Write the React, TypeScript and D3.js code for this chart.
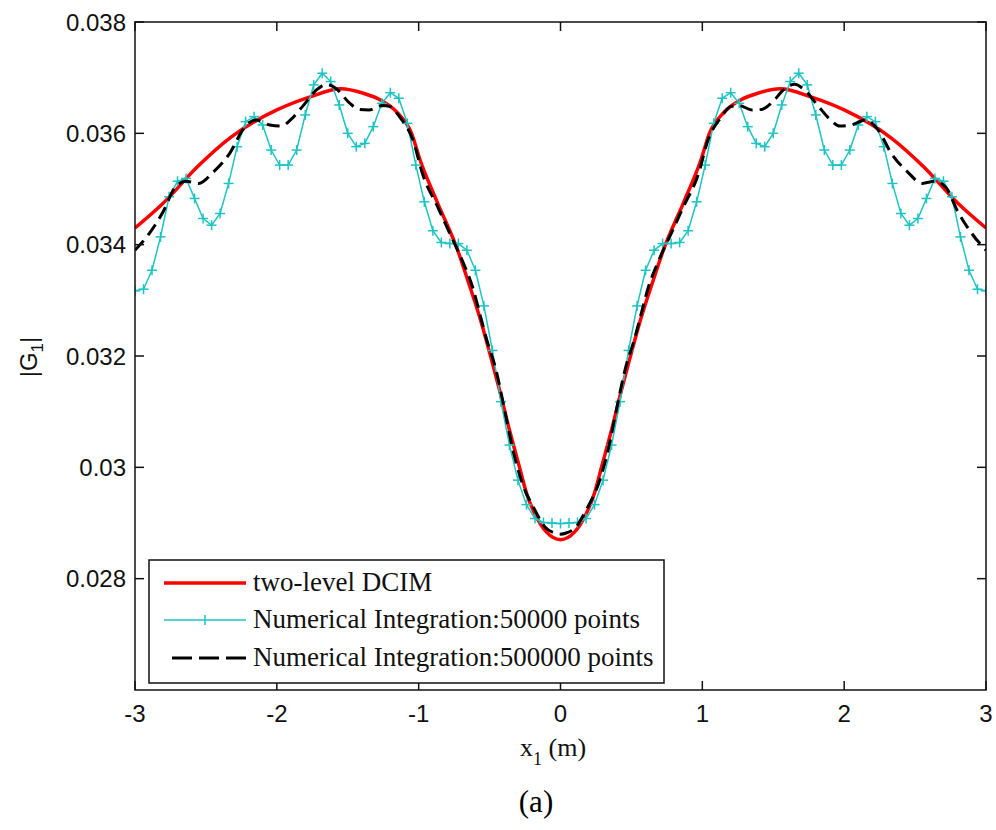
import React from 'react';
import * as d3 from 'd3';

const xTicks = [-3, -2, -1, 0, 1, 2, 3];
const xTickLabels = ['-3', '-2', '-1', '0', '1', '2', '3'];
const yTicks = [0.028, 0.03, 0.032, 0.034, 0.036, 0.038];
const yTickLabels = ['0.028', '0.03', '0.032', '0.034', '0.036', '0.038'];

const seriesNames = [
  'two-level DCIM',
  'Numerical Integration:50000 points',
  'Numerical Integration:500000 points',
];

// two-level DCIM (red)
const redX = [-3, -2.8, -2.56, -2.33, -2, -1.77, -1.55, -1.39, -1.27, -1.15, -1.05, -0.99, -0.87, -0.725, -0.655, -0.57, -0.486, -0.43, -0.36, -0.29, -0.24, -0.17, -0.1, 0,
  0.1, 0.17, 0.24, 0.29, 0.36, 0.43, 0.486, 0.57, 0.655, 0.725, 0.87, 0.99, 1.05, 1.15, 1.27, 1.39, 1.55, 1.77, 2, 2.33, 2.56, 2.8, 3];
const redY = [0.0343, 0.03475, 0.0354, 0.03592, 0.03642, 0.03665, 0.0368, 0.03672, 0.0366, 0.03637, 0.036, 0.03552, 0.03477, 0.0339, 0.03337, 0.0327, 0.03193, 0.03139, 0.03067, 0.03001, 0.02954, 0.02911, 0.02884, 0.0287,
  0.02884, 0.02911, 0.02954, 0.03001, 0.03067, 0.03139, 0.03193, 0.0327, 0.03337, 0.0339, 0.03477, 0.03552, 0.036, 0.03637, 0.0366, 0.03672, 0.0368, 0.03665, 0.03642, 0.03592, 0.0354, 0.03475, 0.0343];

// Numerical Integration: 50000 points (cyan, '+' markers)
const cyanX = [-3, -2.94, -2.88, -2.82, -2.76, -2.7, -2.64, -2.58, -2.52, -2.46, -2.4, -2.34, -2.28, -2.22, -2.16, -2.1, -2.04, -1.98, -1.92, -1.86, -1.8, -1.74, -1.68, -1.62, -1.56, -1.5, -1.44, -1.38, -1.32, -1.26, -1.2, -1.14, -1.08, -1.02, -0.96, -0.9, -0.84, -0.78, -0.72, -0.66, -0.6, -0.54, -0.48, -0.42, -0.36, -0.3, -0.24, -0.18, -0.12, -0.06, 0,
  0.06, 0.12, 0.18, 0.24, 0.3, 0.36, 0.42, 0.48, 0.54, 0.6, 0.66, 0.72, 0.78, 0.84, 0.9, 0.96, 1.02, 1.08, 1.14, 1.2, 1.26, 1.32, 1.38, 1.44, 1.5, 1.56, 1.62, 1.68, 1.74, 1.8, 1.86, 1.92, 1.98, 2.04, 2.1, 2.16, 2.22, 2.28, 2.34, 2.4, 2.46, 2.52, 2.58, 2.64, 2.7, 2.76, 2.82, 2.88, 2.94, 3];
const cyanY = [0.03317, 0.0332, 0.03354, 0.03414, 0.03486, 0.03514, 0.03519, 0.03483, 0.03447, 0.03435, 0.03456, 0.0351, 0.03576, 0.03621, 0.0363, 0.03615, 0.0357, 0.03543, 0.03543, 0.0357, 0.03633, 0.03687, 0.03708, 0.03693, 0.03651, 0.036, 0.03576, 0.03582, 0.03612, 0.03654, 0.03673, 0.03663, 0.03618, 0.03543, 0.03477, 0.03425, 0.03404, 0.03402, 0.03402, 0.0339, 0.03354, 0.0329, 0.0321, 0.03118, 0.0304, 0.02977, 0.02933, 0.02908, 0.02901, 0.029, 0.02899,
  0.029, 0.02901, 0.02908, 0.02933, 0.02977, 0.0304, 0.03118, 0.0321, 0.0329, 0.03354, 0.0339, 0.03402, 0.03402, 0.03404, 0.03425, 0.03477, 0.03543, 0.03618, 0.03663, 0.03673, 0.03654, 0.03612, 0.03582, 0.03576, 0.036, 0.03651, 0.03693, 0.03708, 0.03687, 0.03633, 0.0357, 0.03543, 0.03543, 0.0357, 0.03615, 0.0363, 0.03621, 0.03576, 0.0351, 0.03456, 0.03435, 0.03447, 0.03483, 0.03519, 0.03514, 0.03486, 0.03414, 0.03354, 0.0332, 0.03317];

// Numerical Integration: 500000 points (black dashed)
const blackX = [-3, -2.9, -2.8, -2.72, -2.64, -2.55, -2.45, -2.33, -2.24, -2.15, -2.05, -1.97, -1.9, -1.82, -1.72, -1.65, -1.58, -1.49, -1.42, -1.35, -1.26, -1.2, -1.13, -1.04, -0.97, -0.87, -0.78, -0.69, -0.62, -0.57, -0.52, -0.46, -0.39, -0.34, -0.27, -0.18, -0.11, -0.04, 0,
  0.04, 0.11, 0.18, 0.27, 0.34, 0.39, 0.46, 0.52, 0.57, 0.62, 0.69, 0.78, 0.87, 0.97, 1.04, 1.13, 1.2, 1.26, 1.35, 1.42, 1.49, 1.58, 1.65, 1.72, 1.82, 1.9, 1.97, 2.05, 2.15, 2.24, 2.33, 2.45, 2.55, 2.64, 2.72, 2.8, 2.9, 3];
const blackY = [0.0339, 0.0342, 0.0346, 0.03502, 0.03514, 0.0351, 0.0353, 0.03565, 0.03606, 0.03624, 0.03615, 0.03613, 0.03625, 0.03648, 0.03678, 0.03688, 0.0368, 0.03655, 0.03643, 0.03642, 0.0365, 0.03648, 0.03628, 0.03588, 0.03525, 0.0347, 0.0342, 0.0337, 0.03324, 0.03277, 0.03229, 0.0318, 0.03098, 0.03036, 0.02972, 0.02923, 0.02893, 0.02882, 0.0288,
  0.02882, 0.02893, 0.02923, 0.02972, 0.03036, 0.03098, 0.0318, 0.03229, 0.03277, 0.03324, 0.0337, 0.0342, 0.0347, 0.03525, 0.03588, 0.03628, 0.03648, 0.0365, 0.03642, 0.03643, 0.03655, 0.0368, 0.03688, 0.03678, 0.03648, 0.03625, 0.03613, 0.03615, 0.03624, 0.03606, 0.03565, 0.0353, 0.0351, 0.03514, 0.03502, 0.0346, 0.0342, 0.0339];

const W = 996;
const H = 830;
const L = 135, R = 986, T = 22, B = 690;
const CYAN = '#1cc4c4';
const RED = '#ff0000';
const sansFont = '"Liberation Sans", Arial, sans-serif';
const serifFont = '"Liberation Serif", "Times New Roman", serif';

export default function App() {
  const x = d3.scaleLinear().domain([-3, 3]).range([L, R]);
  const y = d3.scaleLinear().domain([0.026, 0.038]).range([B, T]);

  const smooth = d3.line<[number, number]>().x(d => x(d[0])).y(d => y(d[1])).curve(d3.curveMonotoneX);
  const straight = d3.line<[number, number]>().x(d => x(d[0])).y(d => y(d[1]));

  const redPts = redX.map((v, i) => [v, redY[i]] as [number, number]);
  const cyanPts = cyanX.map((v, i) => [v, cyanY[i]] as [number, number]);
  const blackPts = blackX.map((v, i) => [v, blackY[i]] as [number, number]);

  const tickLen = 9;
  const mk = 5;

  const legX = 149, legY = 560, legW = 515, legH = 123;
  const rowY = [583, 620, 658];
  const lineX0 = 164, lineX1 = 246, textX = 253;

  return (
    <svg width={W} height={H} style={{ position: 'absolute', left: 0, top: 0, background: '#fff' }}>
      <rect x={0} y={0} width={W} height={H} fill="#fff" />
      <defs>
        <clipPath id="plotclip">
          <rect x={L} y={T} width={R - L} height={B - T} />
        </clipPath>
      </defs>

      {/* data */}
      <g clipPath="url(#plotclip)">
        <path d={smooth(redPts) || ''} fill="none" stroke={RED} strokeWidth={3.5} strokeLinejoin="round" />
        <path d={straight(cyanPts) || ''} fill="none" stroke={CYAN} strokeWidth={1.5} />
        {cyanPts.map((p, i) => (
          <g key={i} stroke={CYAN} strokeWidth={1.5}>
            <line x1={x(p[0]) - mk} x2={x(p[0]) + mk} y1={y(p[1])} y2={y(p[1])} />
            <line x1={x(p[0])} x2={x(p[0])} y1={y(p[1]) - mk} y2={y(p[1]) + mk} />
          </g>
        ))}
        <path d={smooth(blackPts) || ''} fill="none" stroke="#000" strokeWidth={3} strokeDasharray="13 7" />
      </g>

      {/* frame */}
      <rect x={L} y={T} width={R - L} height={B - T} fill="none" stroke="#111" strokeWidth={1.5} />
      {xTicks.map((t, i) => (
        <g key={'xt' + i}>
          <line x1={x(t)} x2={x(t)} y1={B} y2={B - tickLen} stroke="#111" strokeWidth={1.5} />
          <line x1={x(t)} x2={x(t)} y1={T} y2={T + tickLen} stroke="#111" strokeWidth={1.5} />
          <text x={x(t)} y={722} textAnchor="middle" fontFamily={sansFont} fontSize={24} fill="#111">{xTickLabels[i]}</text>
        </g>
      ))}
      {yTicks.map((t, i) => (
        <g key={'yt' + i}>
          <line x1={L} x2={L + tickLen} y1={y(t)} y2={y(t)} stroke="#111" strokeWidth={1.5} />
          <line x1={R} x2={R - tickLen} y1={y(t)} y2={y(t)} stroke="#111" strokeWidth={1.5} />
          <text x={126} y={y(t)} dy="0.36em" textAnchor="end" fontFamily={sansFont} fontSize={24} fill="#111">{yTickLabels[i]}</text>
        </g>
      ))}

      {/* axis labels */}
      <text x={520} y={756} fontFamily={serifFont} fontSize={26} fill="#111">
        x<tspan fontSize={18} dy={9}>1</tspan><tspan dy={-9}> (m)</tspan>
      </text>
      <text transform="translate(37,357) rotate(-90)" textAnchor="middle" fontFamily={sansFont} fontSize={24} fill="#111">
        |G<tspan fontSize={17} dy={6}>1</tspan><tspan dy={-6}>|</tspan>
      </text>
      <text x={536} y={812} textAnchor="middle" fontFamily={serifFont} fontSize={31} fill="#000">(a)</text>

      {/* legend */}
      <rect x={legX} y={legY} width={legW} height={legH} fill="#fff" stroke="#111" strokeWidth={1.5} />
      <line x1={lineX0} x2={lineX1} y1={rowY[0]} y2={rowY[0]} stroke={RED} strokeWidth={3.5} />
      <line x1={lineX0} x2={lineX1} y1={rowY[1]} y2={rowY[1]} stroke={CYAN} strokeWidth={1.5} />
      <line x1={(lineX0 + lineX1) / 2} x2={(lineX0 + lineX1) / 2} y1={rowY[1] - mk} y2={rowY[1] + mk} stroke={CYAN} strokeWidth={1.5} />
      <line x1={lineX0 + 8} x2={lineX1} y1={rowY[2]} y2={rowY[2]} stroke="#000" strokeWidth={3} strokeDasharray="20 7" />
      {seriesNames.map((n, i) => (
        <text key={n} x={textX} y={rowY[i] + 8} fontFamily={serifFont} fontSize={27} fill="#111">{n}</text>
      ))}
    </svg>
  );
}
